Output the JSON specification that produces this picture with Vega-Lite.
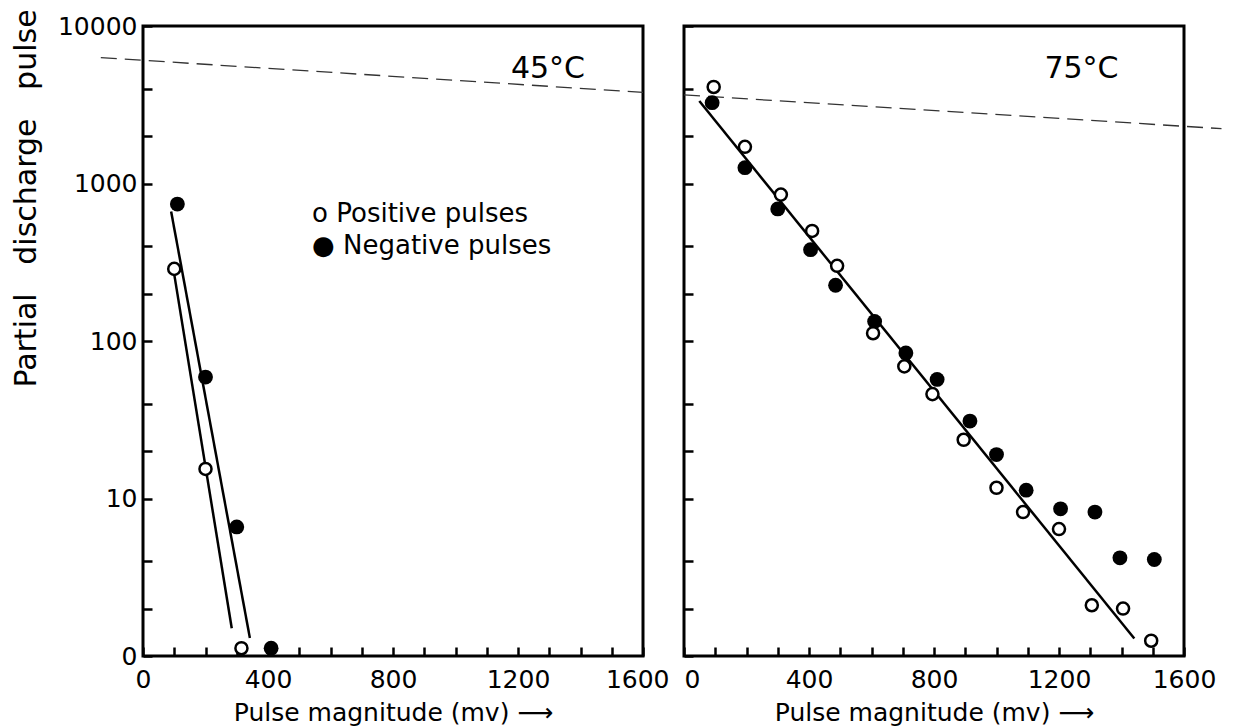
{
  "$schema": "https://vega.github.io/schema/vega-lite/v6.json",
  "background": "white",
  "padding": {"left": 9, "top": 7, "right": 5, "bottom": 5},
  "config": {
    "font": "DejaVu Sans",
    "view": {"stroke": "black", "strokeWidth": 3},
    "axis": {
      "domain": false,
      "grid": false,
      "tickColor": "black",
      "tickWidth": 2.5,
      "tickSize": -9,
      "labelColor": "black",
      "titleColor": "black",
      "labelFont": "DejaVu Sans",
      "titleFont": "DejaVu Sans",
      "labelFontSize": 25,
      "titleFontSize": 25,
      "titleFontWeight": "normal",
      "labelOverlap": false,
      "labelFlush": false,
      "labelBound": false
    }
  },
  "datasets": {
    "points": [
      {"panel": "45", "sign": "Negative", "mv": 110, "count": 740},
      {"panel": "45", "sign": "Positive", "mv": 100, "count": 287},
      {"panel": "45", "sign": "Negative", "mv": 200, "count": 59},
      {"panel": "45", "sign": "Positive", "mv": 200, "count": 15.4},
      {"panel": "45", "sign": "Negative", "mv": 300, "count": 6.6},
      {"panel": "45", "sign": "Positive", "mv": 315, "count": 1.12},
      {"panel": "45", "sign": "Negative", "mv": 410, "count": 1.12},
      {"panel": "75", "sign": "Negative", "mv": 90, "count": 3260},
      {"panel": "75", "sign": "Negative", "mv": 195, "count": 1260},
      {"panel": "75", "sign": "Negative", "mv": 300, "count": 690},
      {"panel": "75", "sign": "Negative", "mv": 405, "count": 380},
      {"panel": "75", "sign": "Negative", "mv": 485, "count": 226},
      {"panel": "75", "sign": "Negative", "mv": 610, "count": 133},
      {"panel": "75", "sign": "Negative", "mv": 710, "count": 84},
      {"panel": "75", "sign": "Negative", "mv": 810, "count": 57},
      {"panel": "75", "sign": "Negative", "mv": 915, "count": 31},
      {"panel": "75", "sign": "Negative", "mv": 1000, "count": 19},
      {"panel": "75", "sign": "Negative", "mv": 1095, "count": 11.3},
      {"panel": "75", "sign": "Negative", "mv": 1205, "count": 8.6},
      {"panel": "75", "sign": "Negative", "mv": 1315, "count": 8.2},
      {"panel": "75", "sign": "Negative", "mv": 1395, "count": 4.2},
      {"panel": "75", "sign": "Negative", "mv": 1505, "count": 4.1},
      {"panel": "75", "sign": "Positive", "mv": 95, "count": 4100},
      {"panel": "75", "sign": "Positive", "mv": 195, "count": 1710},
      {"panel": "75", "sign": "Positive", "mv": 310, "count": 850},
      {"panel": "75", "sign": "Positive", "mv": 410, "count": 500},
      {"panel": "75", "sign": "Positive", "mv": 490, "count": 300},
      {"panel": "75", "sign": "Positive", "mv": 605, "count": 112},
      {"panel": "75", "sign": "Positive", "mv": 705, "count": 69},
      {"panel": "75", "sign": "Positive", "mv": 795, "count": 46},
      {"panel": "75", "sign": "Positive", "mv": 895, "count": 23.6},
      {"panel": "75", "sign": "Positive", "mv": 1000, "count": 11.7},
      {"panel": "75", "sign": "Positive", "mv": 1085, "count": 8.2},
      {"panel": "75", "sign": "Positive", "mv": 1200, "count": 6.4},
      {"panel": "75", "sign": "Positive", "mv": 1305, "count": 2.1},
      {"panel": "75", "sign": "Positive", "mv": 1405, "count": 2.0},
      {"panel": "75", "sign": "Positive", "mv": 1495, "count": 1.25}
    ],
    "fits": [
      {"panel": "45", "line": "Negative", "mv": 90, "count": 665},
      {"panel": "45", "line": "Negative", "mv": 342, "count": 1.3},
      {"panel": "45", "line": "Positive", "mv": 100, "count": 265},
      {"panel": "45", "line": "Positive", "mv": 284, "count": 1.5},
      {"panel": "75", "line": "All", "mv": 49, "count": 3340},
      {"panel": "75", "line": "All", "mv": 1441, "count": 1.29}
    ],
    "crease": [
      {"panel": "45", "mv": -135, "count": 6300},
      {"panel": "45", "mv": 1600, "count": 3790},
      {"panel": "75", "mv": 0, "count": 3650},
      {"panel": "75", "mv": 1720, "count": 2230}
    ],
    "notes": [
      {"panel": "45", "role": "temp", "mv": 1296, "count": 5330, "text": "45°C"},
      {"panel": "75", "role": "temp", "mv": 1272, "count": 5330, "text": "75°C"},
      {"panel": "45", "role": "key", "mv": 541, "count": 640, "text": "o Positive pulses"},
      {"panel": "45", "role": "key", "mv": 541, "count": 400, "text": "● Negative pulses"}
    ]
  },
  "spacing": 41,
  "bounds": "flush",
  "hconcat": [
    {
      "width": 500,
      "height": 630,
      "encoding": {
        "x": {
          "field": "mv",
          "type": "quantitative",
          "scale": {"domain": [0, 1600], "nice": false, "zero": false},
          "axis": {
            "values": [0, 100, 200, 300, 400, 500, 600, 700, 800, 900, 1000, 1100, 1200, 1300, 1400, 1500, 1600],
            "format": "d",
            "labelExpr": "datum.value % 400 == 0 ? datum.label : ''",
            "labelAlign": {"condition": {"test": "datum.value == 1600", "value": "right"}, "value": "center"},
            "labelOffset": {"condition": {"test": "datum.value == 1600", "value": 26}, "value": 0},
            "labelPadding": 20,
            "title": "Pulse magnitude (mv)  ⟶",
            "titlePadding": 8
          }
        },
        "y": {
          "field": "count",
          "type": "quantitative",
          "scale": {"type": "log", "domain": [1, 10000], "nice": false},
          "axis": {
            "values": [1, 2, 4, 10, 20, 40, 100, 200, 400, 1000, 2000, 4000, 10000],
            "format": "d",
            "labelExpr": "datum.value == 1 ? '0' : (datum.value == 10 || datum.value == 100 || datum.value == 1000 || datum.value == 10000) ? format(datum.value, 'd') : ''",
            "labelPadding": 15,
            "title": "Partial\u00a0\u00a0\u00a0discharge\u00a0\u00a0\u00a0pulse",
            "titleFontSize": 30,
            "titleX": -108,
            "titleY": 172,
            "titleBaseline": "alphabetic"
          }
        }
      },
      "layer": [
        {
          "data": {"name": "crease"},
          "transform": [{"filter": "datum.panel == '45'"}],
          "mark": {"type": "line", "stroke": "#333", "strokeWidth": 1.3, "strokeDash": [16, 8], "clip": false}
        },
        {
          "data": {"name": "fits"},
          "transform": [{"filter": "datum.panel == '45'"}],
          "mark": {"type": "line", "stroke": "black", "strokeWidth": 2.5},
          "encoding": {"detail": {"field": "line"}}
        },
        {
          "data": {"name": "points"},
          "transform": [{"filter": "datum.panel == '45' && datum.sign == 'Negative'"}],
          "mark": {"type": "circle", "color": "black", "size": 220, "opacity": 1}
        },
        {
          "data": {"name": "points"},
          "transform": [{"filter": "datum.panel == '45' && datum.sign == 'Positive'"}],
          "mark": {"type": "point", "shape": "circle", "filled": false, "fill": "white", "fillOpacity": 1, "stroke": "black", "strokeWidth": 2.5, "size": 145, "opacity": 1}
        },
        {
          "data": {"name": "notes"},
          "transform": [{"filter": "datum.panel == '45' && datum.role == 'temp'"}],
          "mark": {"type": "text", "fontSize": 30, "align": "center", "baseline": "middle", "color": "black"},
          "encoding": {"text": {"field": "text"}}
        },
        {
          "data": {"name": "notes"},
          "transform": [{"filter": "datum.panel == '45' && datum.role == 'key'"}],
          "mark": {"type": "text", "fontSize": 26, "align": "left", "baseline": "middle", "color": "black"},
          "encoding": {"text": {"field": "text"}}
        }
      ]
    },
    {
      "width": 500,
      "height": 630,
      "encoding": {
        "x": {
          "field": "mv",
          "type": "quantitative",
          "scale": {"domain": [0, 1600], "nice": false, "zero": false},
          "axis": {
            "values": [0, 100, 200, 300, 400, 500, 600, 700, 800, 900, 1000, 1100, 1200, 1300, 1400, 1500, 1600],
            "format": "d",
            "labelExpr": "datum.value % 400 == 0 ? datum.label : ''",
            "labelAlign": {"condition": {"test": "datum.value == 0", "value": "left"}, "value": "center"},
            "labelPadding": 20,
            "title": "Pulse magnitude (mv)  ⟶",
            "titlePadding": 8
          }
        },
        "y": {
          "field": "count",
          "type": "quantitative",
          "scale": {"type": "log", "domain": [1, 10000], "nice": false},
          "axis": {
            "values": [1, 2, 4, 10, 20, 40, 100, 200, 400, 1000, 2000, 4000, 10000],
            "labels": false,
            "title": null
          }
        }
      },
      "layer": [
        {
          "data": {"name": "crease"},
          "transform": [{"filter": "datum.panel == '75'"}],
          "mark": {"type": "line", "stroke": "#333", "strokeWidth": 1.3, "strokeDash": [16, 8], "clip": false}
        },
        {
          "data": {"name": "fits"},
          "transform": [{"filter": "datum.panel == '75'"}],
          "mark": {"type": "line", "stroke": "black", "strokeWidth": 2.5},
          "encoding": {"detail": {"field": "line"}}
        },
        {
          "data": {"name": "points"},
          "transform": [{"filter": "datum.panel == '75' && datum.sign == 'Negative'"}],
          "mark": {"type": "circle", "color": "black", "size": 220, "opacity": 1}
        },
        {
          "data": {"name": "points"},
          "transform": [{"filter": "datum.panel == '75' && datum.sign == 'Positive'"}],
          "mark": {"type": "point", "shape": "circle", "filled": false, "fill": "white", "fillOpacity": 1, "stroke": "black", "strokeWidth": 2.5, "size": 145, "opacity": 1}
        },
        {
          "data": {"name": "notes"},
          "transform": [{"filter": "datum.panel == '75' && datum.role == 'temp'"}],
          "mark": {"type": "text", "fontSize": 30, "align": "center", "baseline": "middle", "color": "black"},
          "encoding": {"text": {"field": "text"}}
        }
      ]
    }
  ]
}
